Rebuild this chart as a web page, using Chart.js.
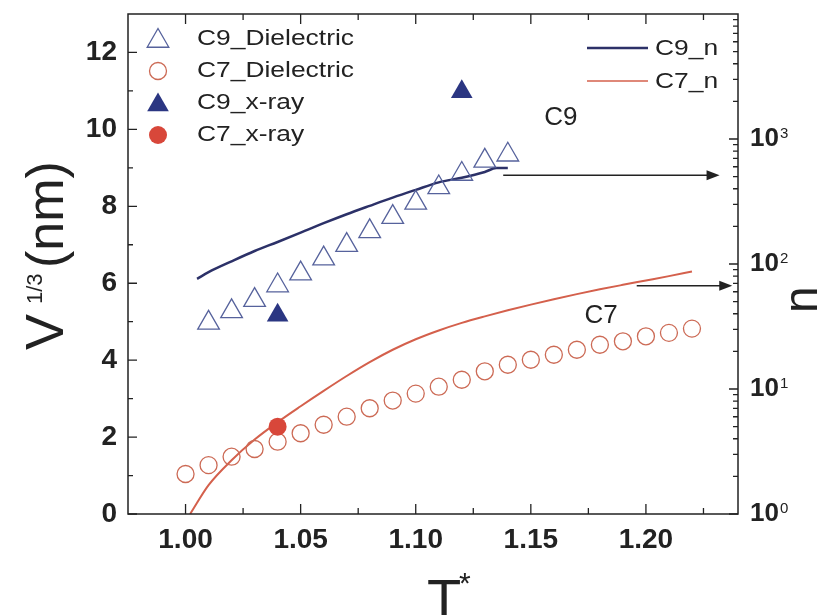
<!DOCTYPE html>
<html>
<head>
<meta charset="utf-8">
<script src="https://cdn.jsdelivr.net/npm/chart.js@4.4.1/dist/chart.umd.min.js"></script>
<style>
  html, body { margin: 0; padding: 0; background: #fff; }
  #wrap { width: 821px; height: 615px; }
</style>
</head>
<body>
<div id="wrap"><canvas id="chart" width="821" height="615"></canvas></div>
<script>
// reduced temperature T*
const c9DielT = [1.01, 1.02, 1.03, 1.04, 1.05, 1.06, 1.07, 1.08, 1.09, 1.10, 1.11, 1.12, 1.13, 1.14];
const c9DielV = [4.97, 5.27, 5.56, 5.94, 6.25, 6.64, 6.99, 7.35, 7.72, 8.09, 8.49, 8.84, 9.18, 9.34];

const c7DielT = [1.00, 1.01, 1.02, 1.03, 1.04, 1.05, 1.06, 1.07, 1.08, 1.09, 1.10, 1.11,
                 1.12, 1.13, 1.14, 1.15, 1.16, 1.17, 1.18, 1.19, 1.20, 1.21, 1.22];
const c7DielV = [1.04, 1.27, 1.49, 1.69, 1.88, 2.10, 2.32, 2.53, 2.75, 2.95, 3.13, 3.31,
                 3.49, 3.71, 3.88, 4.01, 4.14, 4.27, 4.40, 4.49, 4.62, 4.71, 4.82];

const c9XrayT = [1.04, 1.12];
const c9XrayV = [5.17, 10.98];
const c7XrayT = [1.04];
const c7XrayV = [2.27];

// n (right, log axis)
const c9nT   = [1.005, 1.01, 1.02, 1.03, 1.04, 1.05, 1.06, 1.07, 1.08, 1.09, 1.10, 1.11, 1.12, 1.13, 1.135, 1.14];
const c9nVal = [76, 86, 105, 127, 150, 178, 212, 250, 292, 340, 392, 450, 490, 545, 585, 585];

const c7nT   = [1.002, 1.01, 1.02, 1.03, 1.04, 1.05, 1.06, 1.07, 1.08, 1.09, 1.10, 1.11,
                1.12, 1.13, 1.14, 1.15, 1.16, 1.17, 1.18, 1.19, 1.20, 1.21, 1.22];
const c7nVal = [1.0, 1.7, 2.69, 3.94, 5.43, 7.28, 9.66, 12.7, 16.4, 20.6, 25.0, 29.4,
                33.8, 38.1, 42.6, 47.3, 52.3, 57.4, 62.7, 68.1, 73.8, 80, 87];

const nTicks = [1, 10, 100, 1000];
const nTickExp = ['0', '1', '2', '3'];

const FONT = '"Liberation Sans", Arial, Helvetica, sans-serif';
const INK = '#222';

const pts = (xs, ys) => xs.map((x, i) => ({ x: x, y: ys[i] }));

function marker(ctx, style, x, y, r, fill, stroke) {
    ctx.beginPath();
    if (style === 'triangle') {
        ctx.moveTo(x, y - r);
        ctx.lineTo(x + r * 0.866, y + r * 0.5);
        ctx.lineTo(x - r * 0.866, y + r * 0.5);
        ctx.closePath();
    } else {
        ctx.arc(x, y, r, 0, Math.PI * 2);
    }
    if (fill) { ctx.fillStyle = fill; ctx.fill(); }
    if (stroke) { ctx.strokeStyle = stroke; ctx.lineWidth = 1.3; ctx.stroke(); }
}

function arrow(ctx, x1, x2, y) {
    ctx.strokeStyle = INK; ctx.fillStyle = INK; ctx.lineWidth = 1.5;
    ctx.beginPath(); ctx.moveTo(x1, y); ctx.lineTo(x2 - 10, y); ctx.stroke();
    ctx.beginPath(); ctx.moveTo(x2, y); ctx.lineTo(x2 - 13, y - 5); ctx.lineTo(x2 - 13, y + 5); ctx.closePath(); ctx.fill();
}

// text stretched horizontally, like the original figure's legend font
function wideText(ctx, str, x, y, sx) {
    ctx.save();
    ctx.translate(x, y);
    ctx.scale(sx, 1);
    ctx.fillText(str, 0, 0);
    ctx.restore();
}

const decor = {
    id: 'decor',
    afterDraw(chart) {
        const { ctx, chartArea: a, scales: { x, y, y2 } } = chart;
        ctx.save();

        // frame
        ctx.strokeStyle = INK;
        ctx.lineWidth = 1.5;
        ctx.strokeRect(a.left, a.top, a.right - a.left, a.bottom - a.top);

        // inward ticks
        ctx.lineWidth = 1.3;
        ctx.beginPath();
        x.ticks.forEach(t => {
            const px = x.getPixelForValue(t.value);
            ctx.moveTo(px, a.bottom); ctx.lineTo(px, a.bottom - 10);
            ctx.moveTo(px, a.top); ctx.lineTo(px, a.top + 10);
            const mv = t.value + 0.025;
            if (mv < x.max) {
                const pm = x.getPixelForValue(mv);
                ctx.moveTo(pm, a.bottom); ctx.lineTo(pm, a.bottom - 6);
                ctx.moveTo(pm, a.top); ctx.lineTo(pm, a.top + 6);
            }
        });
        y.ticks.forEach(t => {
            const py = y.getPixelForValue(t.value);
            ctx.moveTo(a.left, py); ctx.lineTo(a.left + 9, py);
            const pm = y.getPixelForValue(t.value + 1);
            if (t.value + 1 < y.max) { ctx.moveTo(a.left, pm); ctx.lineTo(a.left + 5, pm); }
        });
        nTicks.forEach(n => {
            const py = y2.getPixelForValue(n);
            ctx.moveTo(a.right, py); ctx.lineTo(a.right - 9, py);
            for (let k = 2; k <= 9; k++) {
                const pm = y2.getPixelForValue(n * k);
                if (pm > a.top) { ctx.moveTo(a.right, pm); ctx.lineTo(a.right - 5, pm); }
            }
        });
        ctx.stroke();

        // right axis labels 10^k
        ctx.fillStyle = INK;
        nTicks.forEach((n, i) => {
            const py = y2.getPixelForValue(n);
            ctx.font = 'bold 26px ' + FONT;
            ctx.textAlign = 'left';
            ctx.textBaseline = 'middle';
            ctx.fillText('10', 750, py);
            const w = ctx.measureText('10').width;
            ctx.font = '15px ' + FONT;
            ctx.textBaseline = 'top';
            ctx.fillText(nTickExp[i], 750 + w + 1, py - 13);
        });

        // left title V^1/3 (nm)
        ctx.save();
        ctx.translate(63, 350);
        ctx.rotate(-Math.PI / 2);
        ctx.textAlign = 'left';
        ctx.textBaseline = 'alphabetic';
        ctx.font = '54px ' + FONT;
        ctx.fillText('V', 0, 0);
        ctx.font = '22px ' + FONT;
        ctx.fillText('1/3', 46, -21);
        ctx.font = '52px ' + FONT;
        ctx.fillText('(nm)', 82, 0);
        ctx.restore();

        // right title n
        ctx.save();
        ctx.translate(817, 313);
        ctx.rotate(-Math.PI / 2);
        ctx.font = '48px ' + FONT;
        ctx.textAlign = 'left';
        ctx.textBaseline = 'alphabetic';
        ctx.fillText('n', 0, 0);
        ctx.restore();

        // bottom title T*
        ctx.textAlign = 'left';
        ctx.textBaseline = 'alphabetic';
        ctx.font = '56px ' + FONT;
        ctx.fillText('T', 427, 618);
        ctx.font = '30px ' + FONT;
        ctx.fillText('*', 459, 593);

        // series labels
        ctx.font = '26px ' + FONT;
        ctx.textAlign = 'center';
        ctx.textBaseline = 'middle';
        ctx.fillText('C9', x.getPixelForValue(1.163), y.getPixelForValue(10.31));
        ctx.fillText('C7', x.getPixelForValue(1.1805), y.getPixelForValue(5.16));

        // arrows pointing at the n axis
        arrow(ctx, x.getPixelForValue(1.138), x.getPixelForValue(1.232), y2.getPixelForValue(512));
        arrow(ctx, x.getPixelForValue(1.196), x.getPixelForValue(1.2375), y2.getPixelForValue(67));

        // left legend
        const legL = [
            ['triangle', null, '#56629c', 12.5, 'C9_Dielectric'],
            ['circle', null, '#cc6a55', 8.5, 'C7_Dielectric'],
            ['triangle', '#2b3682', null, 12.5, 'C9_x-ray'],
            ['circle', '#d8473a', null, 9, 'C7_x-ray']
        ];
        const rowsL = [39, 71, 103, 135];
        ctx.font = '22px ' + FONT;
        ctx.textAlign = 'left';
        legL.forEach((l, i) => {
            marker(ctx, l[0], 158, rowsL[i] + (l[0] === 'triangle' ? 2 : 0), l[3], l[1], l[2]);
            ctx.fillStyle = INK;
            wideText(ctx, l[4], 197, rowsL[i], 1.2);
        });

        // right legend
        const legR = [['#2c3168', 2.5, 'C9_n'], ['#d4604c', 1.6, 'C7_n']];
        const rowsR = [49, 82];
        legR.forEach((l, i) => {
            ctx.strokeStyle = l[0]; ctx.lineWidth = l[1];
            ctx.beginPath(); ctx.moveTo(587, rowsR[i] - 1); ctx.lineTo(648, rowsR[i] - 1); ctx.stroke();
            ctx.fillStyle = INK;
            wideText(ctx, l[2], 655, rowsR[i], 1.2);
        });

        ctx.restore();
    }
};

const tickFont = { family: FONT, size: 28, weight: 'bold' };

new Chart(document.getElementById('chart').getContext('2d'), {
    type: 'scatter',
    data: {
        datasets: [
            { label: 'C7_x-ray', data: pts(c7XrayT, c7XrayV), pointStyle: 'circle', pointRadius: 9,
              backgroundColor: '#d8473a', borderColor: '#d8473a', borderWidth: 0, order: 1 },
            { label: 'C9_x-ray', data: pts(c9XrayT, c9XrayV), pointStyle: 'triangle', pointRadius: 12.5,
              backgroundColor: '#2b3682', borderColor: '#2b3682', borderWidth: 0, order: 2 },
            { label: 'C9_Dielectric', data: pts(c9DielT, c9DielV), pointStyle: 'triangle', pointRadius: 12.5,
              backgroundColor: 'rgba(0,0,0,0)', borderColor: '#56629c', borderWidth: 1.3, order: 3 },
            { label: 'C7_Dielectric', data: pts(c7DielT, c7DielV), pointStyle: 'circle', pointRadius: 8.5,
              backgroundColor: 'rgba(0,0,0,0)', borderColor: '#cc6a55', borderWidth: 1.3, order: 4 },
            { label: 'C9_n', data: pts(c9nT, c9nVal), yAxisID: 'y2', showLine: true, pointRadius: 0,
              borderColor: '#2c3168', borderWidth: 2.5, cubicInterpolationMode: 'monotone', order: 5 },
            { label: 'C7_n', data: pts(c7nT, c7nVal), yAxisID: 'y2', showLine: true, pointRadius: 0,
              borderColor: '#d4604c', borderWidth: 2, cubicInterpolationMode: 'monotone', order: 6 }
        ]
    },
    options: {
        responsive: false,
        animation: false,
        layout: { padding: { top: 14, left: 0, right: 0, bottom: 0 } },
        plugins: { legend: { display: false }, tooltip: { enabled: false } },
        scales: {
            x: {
                type: 'linear', min: 0.975, max: 1.24,
                ticks: { stepSize: 0.05, includeBounds: false, callback: v => v.toFixed(2),
                         font: tickFont, color: INK, padding: 9, maxRotation: 0 },
                grid: { display: false, drawTicks: false },
                border: { display: false },
                afterFit(s) { s.height = 101; s.paddingLeft = 0; s.paddingRight = 0; }
            },
            y: {
                type: 'linear', min: 0, max: 13, position: 'left',
                ticks: { stepSize: 2, includeBounds: false, font: tickFont, color: INK, padding: 11 },
                grid: { display: false, drawTicks: false },
                border: { display: false },
                afterFit(s) { s.width = 128; s.paddingTop = 0; s.paddingBottom = 0; }
            },
            y2: {
                type: 'logarithmic', min: 1, max: 10000, position: 'right',
                ticks: { display: false },
                grid: { display: false, drawTicks: false },
                border: { display: false },
                afterFit(s) { s.width = 83; s.paddingTop = 0; s.paddingBottom = 0; }
            }
        }
    },
    plugins: [decor]
});
</script>
</body>
</html>
